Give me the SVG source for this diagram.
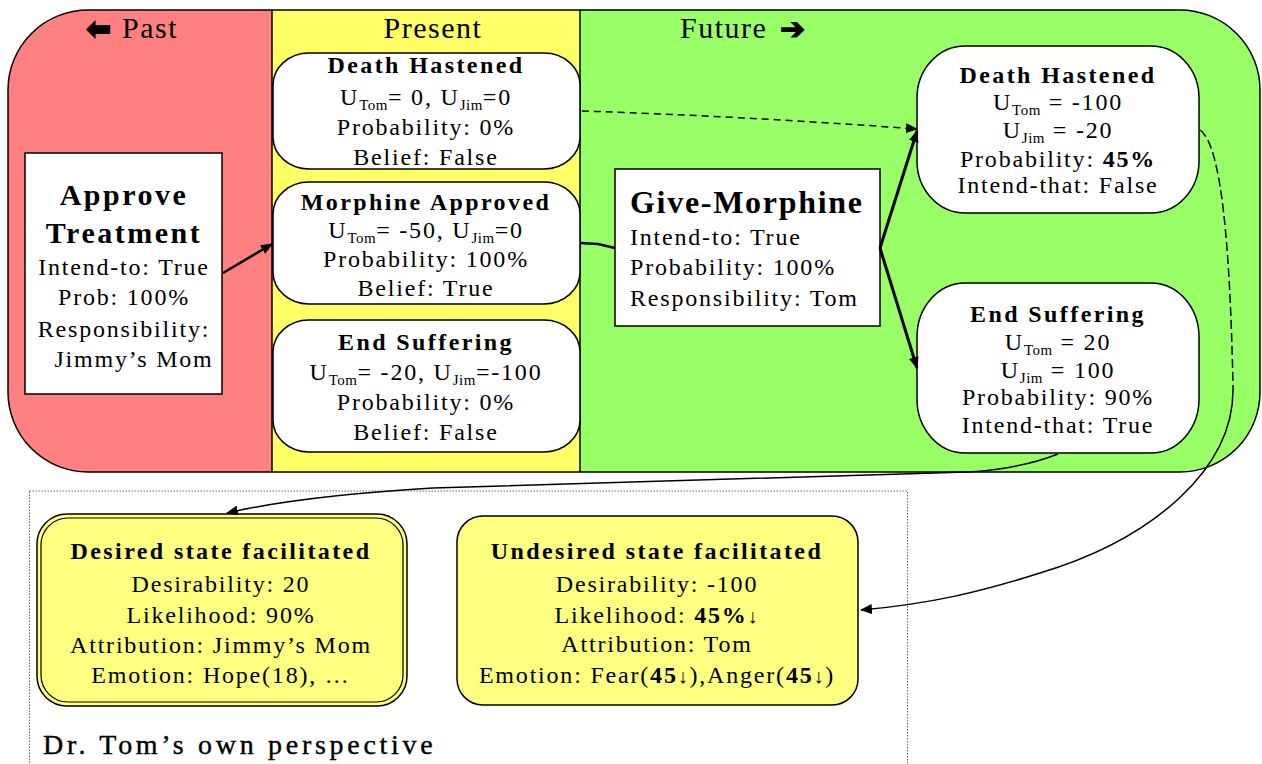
<svg xmlns="http://www.w3.org/2000/svg" width="1262" height="764" viewBox="0 0 1262 764">
<style>
.t{font-family:"Liberation Serif","Times New Roman",serif;font-size:24px;letter-spacing:1.8px;text-anchor:middle;fill:#000}
.l{text-anchor:start}
.b{font-weight:bold;letter-spacing:2.4px}
.s{font-size:15px;letter-spacing:0.5px}
.hd{font-size:30px;letter-spacing:1.5px}
.ar{font-family:"DejaVu Sans",sans-serif;font-size:30px;font-weight:bold;letter-spacing:0;fill:#000;stroke:#000;stroke-width:1.2}
.box{fill:#fff;stroke:#000;stroke-width:1.5}
.note{fill:#ffff80;stroke:#000;stroke-width:1.5}
.ln{fill:none;stroke:#000}
</style>
<defs>
<clipPath id="outer"><rect x="8" y="10" width="1252" height="462" rx="80" ry="80"/></clipPath>
<marker id="ah" markerUnits="userSpaceOnUse" markerWidth="12" markerHeight="10" refX="11" refY="5" orient="auto"><path d="M0,0 L12,5 L0,10 z" fill="#000"/></marker>
</defs>

<g id="timeline">
<g clip-path="url(#outer)">
<rect x="8" y="10" width="264" height="462" fill="#ff8080"/>
<rect x="272" y="10" width="308" height="462" fill="#ffff66"/>
<rect x="580" y="10" width="682" height="462" fill="#99ff66"/>
</g>
<rect x="8" y="10" width="1252" height="462" rx="80" ry="80" fill="none" stroke="#000" stroke-width="1.5"/>
<line x1="272" y1="10" x2="272" y2="472" stroke="#000" stroke-width="1.5"/>
<line x1="580" y1="10" x2="580" y2="472" stroke="#000" stroke-width="1.5"/>
<text class="ar" x="86" y="39">⬅</text>
<text class="t hd l" x="122" y="38">Past</text>
<text class="t hd" x="433" y="38">Present</text>
<text class="t hd l" x="680" y="38">Future</text>
<text class="ar" x="780" y="39">➔</text>
</g>

<g id="perspective">
<rect x="29.5" y="491" width="878" height="290" fill="none" stroke="#666" stroke-width="1" stroke-dasharray="1.5,1.5"/>
<text class="t l" x="43" y="754" style="font-size:28px;letter-spacing:3.7px;stroke:#000;stroke-width:0.4">Dr. Tom’s own perspective</text>
</g>

<g id="approve-treatment">
<rect class="box" x="25" y="153" width="197" height="241"/>
<text class="t b" x="124" y="205" style="font-size:30px;letter-spacing:2.5px">Approve</text>
<text class="t b" x="124" y="243" style="font-size:30px;letter-spacing:2.5px">Treatment</text>
<text class="t" x="124" y="275">Intend-to: True</text>
<text class="t" x="124" y="305">Prob: 100%</text>
<text class="t" x="124" y="337">Responsibility:</text>
<text class="t" x="134" y="367">Jimmy’s Mom</text>
</g>

<g id="present-death-hastened">
<rect class="box" x="273" y="53" width="307" height="116" rx="36" ry="32"/>
<text class="t b" x="426" y="73">Death Hastened</text>
<text class="t" x="426" y="105">U<tspan class="s" dy="5">Tom</tspan><tspan dy="-5">= 0, U</tspan><tspan class="s" dy="5">Jim</tspan><tspan dy="-5">=0</tspan></text>
<text class="t" x="426" y="135">Probability: 0%</text>
<text class="t" x="426" y="165">Belief: False</text>
</g>

<g id="present-morphine-approved">
<rect class="box" x="273" y="182" width="307" height="122" rx="36" ry="32"/>
<text class="t b" x="426" y="210">Morphine Approved</text>
<text class="t" x="426" y="238">U<tspan class="s" dy="5">Tom</tspan><tspan dy="-5">= -50, U</tspan><tspan class="s" dy="5">Jim</tspan><tspan dy="-5">=0</tspan></text>
<text class="t" x="426" y="267">Probability: 100%</text>
<text class="t" x="426" y="296">Belief: True</text>
</g>

<g id="present-end-suffering">
<rect class="box" x="273" y="320" width="307" height="132" rx="36" ry="32"/>
<text class="t b" x="426" y="350">End Suffering</text>
<text class="t" x="426" y="380">U<tspan class="s" dy="5">Tom</tspan><tspan dy="-5">= -20, U</tspan><tspan class="s" dy="5">Jim</tspan><tspan dy="-5">=-100</tspan></text>
<text class="t" x="426" y="410">Probability: 0%</text>
<text class="t" x="426" y="440">Belief: False</text>
</g>

<g id="give-morphine">
<rect class="box" x="615" y="169" width="265" height="157"/>
<text class="t b l" x="630" y="213" style="font-size:32px;letter-spacing:1.7px">Give-Morphine</text>
<text class="t l" x="630" y="245">Intend-to: True</text>
<text class="t l" x="630" y="275">Probability: 100%</text>
<text class="t l" x="630" y="306">Responsibility: Tom</text>
</g>

<g id="future-death-hastened">
<rect class="box" x="917" y="46" width="282" height="167" rx="48" ry="52"/>
<text class="t b" x="1058" y="83">Death Hastened</text>
<text class="t" x="1058" y="110">U<tspan class="s" dy="5">Tom</tspan><tspan dy="-5"> = -100</tspan></text>
<text class="t" x="1058" y="138">U<tspan class="s" dy="5">Jim</tspan><tspan dy="-5"> = -20</tspan></text>
<text class="t" x="1058" y="167">Probability: <tspan font-weight="bold">45%</tspan></text>
<text class="t" x="1058" y="193">Intend-that: False</text>
</g>

<g id="future-end-suffering">
<rect class="box" x="917" y="283" width="282" height="170" rx="48" ry="54"/>
<text class="t b" x="1058" y="322">End Suffering</text>
<text class="t" x="1058" y="350">U<tspan class="s" dy="5">Tom</tspan><tspan dy="-5"> = 20</tspan></text>
<text class="t" x="1058" y="378">U<tspan class="s" dy="5">Jim</tspan><tspan dy="-5"> = 100</tspan></text>
<text class="t" x="1058" y="405">Probability: 90%</text>
<text class="t" x="1058" y="433">Intend-that: True</text>
</g>

<g id="desired-state">
<rect class="note" x="37" y="514" width="370" height="192" rx="30" ry="30" stroke-width="2"/>
<rect x="41" y="518" width="362" height="184" rx="27" ry="27" fill="none" stroke="#000" stroke-width="1.2"/>
<text class="t b" x="221" y="559">Desired state facilitated</text>
<text class="t" x="221" y="592">Desirability: 20</text>
<text class="t" x="221" y="623">Likelihood: 90%</text>
<text class="t" x="221" y="653">Attribution: Jimmy’s Mom</text>
<text class="t" x="221" y="683">Emotion: Hope(18), …</text>
</g>

<g id="undesired-state">
<rect class="note" x="457" y="516" width="401" height="189" rx="26" ry="26"/>
<text class="t b" x="657" y="559">Undesired state facilitated</text>
<text class="t" x="657" y="592">Desirability: -100</text>
<text class="t" x="657" y="623">Likelihood: <tspan font-weight="bold">45%</tspan><tspan font-size="20">↓</tspan></text>
<text class="t" x="657" y="652">Attribution: Tom</text>
<text class="t" x="657" y="683">Emotion: Fear(<tspan font-weight="bold">45</tspan><tspan font-size="20">↓</tspan>),Anger(<tspan font-weight="bold">45</tspan><tspan font-size="20">↓</tspan>)</text>
</g>

<g id="connectors">
<line class="ln" x1="223" y1="273" x2="272" y2="244" stroke-width="2.5" marker-end="url(#ah)"/>
<path class="ln" d="M580,243 L598,244 L615,248" stroke-width="2.5"/>
<line class="ln" x1="880" y1="248" x2="917" y2="131" stroke-width="3" marker-end="url(#ah)"/>
<line class="ln" x1="880" y1="248" x2="917" y2="368" stroke-width="3" marker-end="url(#ah)"/>
<path class="ln" d="M582,111 Q740,116 917,129" stroke-width="1.5" stroke-dasharray="7,5" marker-end="url(#ah)"/>
<path class="ln" d="M1058,454 Q1020,469 967,472 L433,488 Q300,496 227,513" stroke-width="1.5" marker-end="url(#ah)"/>
<path class="ln" d="M1200,130 C1222,145 1230,250 1233,385" stroke-width="1.5" stroke-dasharray="9,4"/>
<path class="ln" d="M1233,385 C1236,470 1150,540 1040,573 C980,592 930,604 861,610" stroke-width="1.5" marker-end="url(#ah)"/>
</g>
</svg>
